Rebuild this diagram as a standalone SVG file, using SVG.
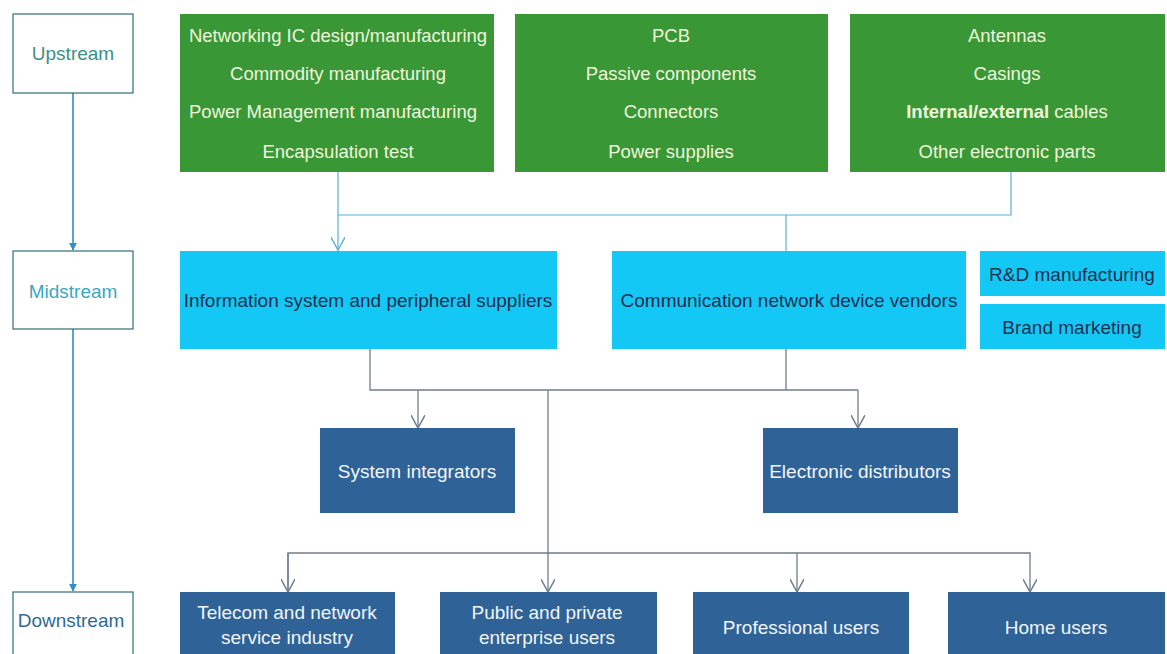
<svg xmlns="http://www.w3.org/2000/svg" width="1167" height="654" viewBox="0 0 1167 654">
  <style>
    text { font-family: "Liberation Sans", "Noto Sans", Arial, sans-serif; text-anchor: middle; dominant-baseline: central; }
    .stage rect { fill: #ffffff; stroke: #2f6f78; stroke-width: 1.2; }
    .stage text { font-size: 19px; }
    .up rect { fill: #3a9735; }
    .up text { fill: #eef6dc; font-size: 18.5px; }
    .mid rect { fill: #14c8f6; }
    .mid text { fill: #1b2f4f; font-size: 19px; }
    .down rect { fill: #2f6296; }
    .down text { fill: #f2f6fa; font-size: 19px; }
    .lane { stroke: #2f8fc6; stroke-width: 1.6; fill: none; }
    .feed { stroke: #5aaed4; stroke-width: 1.2; fill: none; }
    .dist { stroke: #6e7e8e; stroke-width: 1.3; fill: none; }
  </style>
  <defs>
    <marker id="solid" viewBox="0 0 10 10" refX="9" refY="5" markerWidth="8" markerHeight="8" markerUnits="userSpaceOnUse" orient="auto">
      <path d="M0,0 L10,5 L0,10 z" fill="#2f8fc6"/>
    </marker>
    <marker id="openBlue" viewBox="0 0 12 12" refX="11" refY="6" markerWidth="14" markerHeight="14" markerUnits="userSpaceOnUse" orient="auto">
      <path d="M0,0 L11,6 L0,12" fill="none" stroke="#5aaed4" stroke-width="1.2"/>
    </marker>
    <marker id="openGray" viewBox="0 0 12 12" refX="11" refY="6" markerWidth="14" markerHeight="14" markerUnits="userSpaceOnUse" orient="auto">
      <path d="M0,0 L11,6 L0,12" fill="none" stroke="#6e7e8e" stroke-width="1.3"/>
    </marker>
  </defs>

  <rect width="1167" height="654" fill="#ffffff"/>

  <!-- connectors -->
  <g id="connectors">
    <!-- stage lane -->
    <line class="lane" x1="73" y1="93" x2="73" y2="250" marker-end="url(#solid)"/>
    <line class="lane" x1="73" y1="329" x2="73" y2="591" marker-end="url(#solid)"/>
    <!-- upstream feed -->
    <polyline class="feed" points="338,172 338,250" marker-end="url(#openBlue)"/>
    <polyline class="feed" points="338,215 1011,215 1011,172"/>
    <line class="feed" x1="786" y1="215" x2="786" y2="251"/>
    <!-- midstream distribution -->
    <polyline class="dist" points="370,349 370,390 858,390"/>
    <line class="dist" x1="786" y1="349" x2="786" y2="390"/>
    <line class="dist" x1="418" y1="390" x2="418" y2="428" marker-end="url(#openGray)"/>
    <line class="dist" x1="858" y1="390" x2="858" y2="428" marker-end="url(#openGray)"/>
    <line class="dist" x1="548" y1="390" x2="548" y2="592" marker-end="url(#openGray)"/>
    <!-- downstream distribution -->
    <polyline class="dist" points="288,592 288,553 1030,553 1030,592" marker-end="url(#openGray)"/>
    <line class="dist" x1="288" y1="553" x2="288" y2="592" marker-end="url(#openGray)"/>
    <line class="dist" x1="797" y1="553" x2="797" y2="592" marker-end="url(#openGray)"/>
  </g>

  <!-- stage labels -->
  <g id="stage-upstream" class="stage">
    <rect x="13" y="14" width="120" height="79"/>
    <text x="73" y="53" fill="#3a8f86">Upstream</text>
  </g>
  <g id="stage-midstream" class="stage">
    <rect x="13" y="251" width="120" height="78"/>
    <text x="73" y="291" fill="#3aa6c6">Midstream</text>
  </g>
  <g id="stage-downstream" class="stage">
    <rect x="13" y="592" width="120" height="70"/>
    <text x="71" y="620" fill="#2e6a95">Downstream</text>
  </g>

  <!-- upstream suppliers -->
  <g id="up-ic" class="up">
    <rect x="180" y="14" width="314" height="158"/>
    <text x="338" y="35">Networking IC design/manufacturing</text>
    <text x="338" y="73">Commodity manufacturing</text>
    <text x="333" y="111">Power Management manufacturing</text>
    <text x="338" y="151">Encapsulation test</text>
  </g>
  <g id="up-pcb" class="up">
    <rect x="515" y="14" width="313" height="158"/>
    <text x="671" y="35">PCB</text>
    <text x="671" y="73">Passive components</text>
    <text x="671" y="111">Connectors</text>
    <text x="671" y="151">Power supplies</text>
  </g>
  <g id="up-parts" class="up">
    <rect x="850" y="14" width="315" height="158"/>
    <text x="1007" y="35">Antennas</text>
    <text x="1007" y="73">Casings</text>
    <text x="1007" y="111"><tspan font-weight="bold">Internal/external</tspan> cables</text>
    <text x="1007" y="151">Other electronic parts</text>
  </g>

  <!-- midstream vendors -->
  <g id="mid-info" class="mid">
    <rect x="180" y="251" width="377" height="98"/>
    <text x="368" y="300">Information system and peripheral suppliers</text>
  </g>
  <g id="mid-comm" class="mid">
    <rect x="612" y="251" width="354" height="98"/>
    <text x="789" y="300">Communication network device vendors</text>
  </g>
  <g id="mid-rd" class="mid">
    <rect x="980" y="251" width="185" height="45"/>
    <text x="1072" y="274">R&amp;D manufacturing</text>
  </g>
  <g id="mid-brand" class="mid">
    <rect x="980" y="304" width="185" height="45"/>
    <text x="1072" y="327">Brand marketing</text>
  </g>

  <!-- channels -->
  <g id="ch-integrators" class="down">
    <rect x="320" y="428" width="195" height="85"/>
    <text x="417" y="471">System integrators</text>
  </g>
  <g id="ch-distributors" class="down">
    <rect x="763" y="428" width="195" height="85"/>
    <text x="860" y="471">Electronic distributors</text>
  </g>

  <!-- end users -->
  <g id="user-telecom" class="down">
    <rect x="180" y="592" width="215" height="70"/>
    <text x="287" y="612">Telecom and network</text>
    <text x="287" y="637">service industry</text>
  </g>
  <g id="user-enterprise" class="down">
    <rect x="440" y="592" width="217" height="70"/>
    <text x="547" y="612">Public and private</text>
    <text x="547" y="637">enterprise users</text>
  </g>
  <g id="user-professional" class="down">
    <rect x="693" y="592" width="216" height="70"/>
    <text x="801" y="627">Professional users</text>
  </g>
  <g id="user-home" class="down">
    <rect x="948" y="592" width="217" height="70"/>
    <text x="1056" y="627">Home users</text>
  </g>
</svg>
